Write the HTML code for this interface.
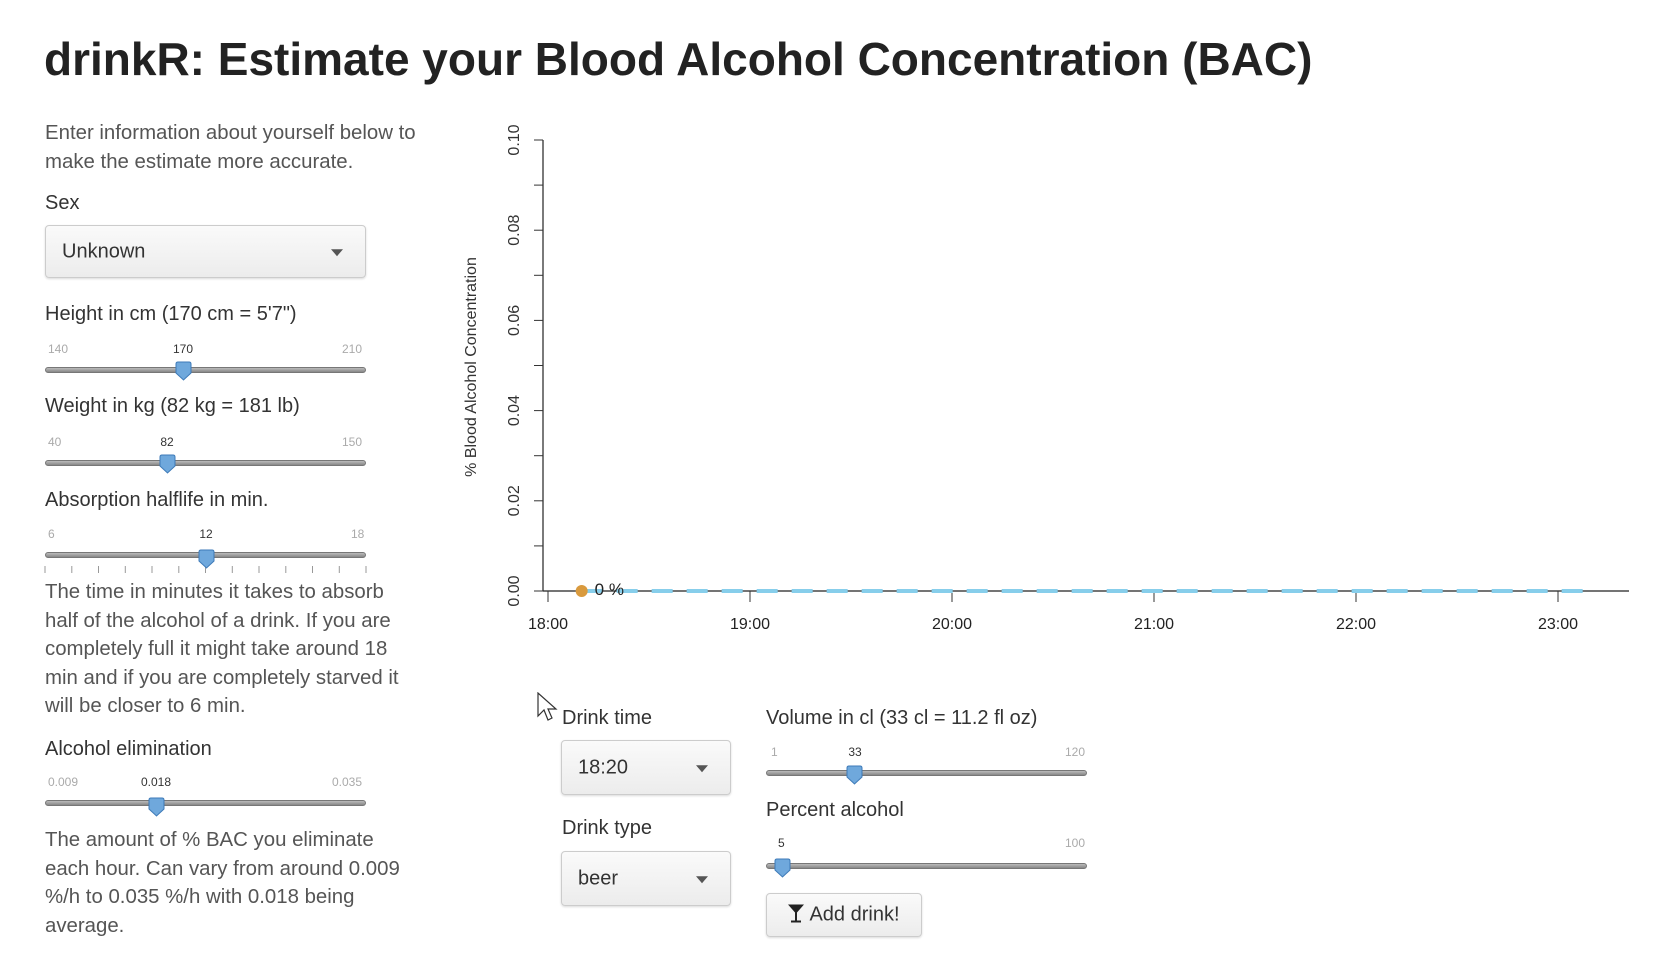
<!DOCTYPE html>
<html><head><meta charset="utf-8">
<style>
body{margin:0;width:1676px;height:954px;background:#fff;position:relative;overflow:hidden;font-family:"Liberation Sans",sans-serif;color:#333;}
.a{position:absolute;white-space:nowrap;}
.lbl{font-size:20px;line-height:24px;}
.p{font-size:20.4px;line-height:28.6px;color:#555;white-space:nowrap;}
.sel{position:absolute;border:1px solid #ccc;border-radius:4px;background:linear-gradient(#fafafa,#ececec);box-shadow:0 1px 2px rgba(0,0,0,.15);font-size:20px;box-sizing:border-box;}
.sel span{position:absolute;left:16px;top:50%;transform:translateY(-50%);}
.sel i{position:absolute;right:22px;top:50%;width:0;height:0;border-left:6px solid transparent;border-right:6px solid transparent;border-top:7px solid #555;transform:translateY(-40%);}
.trk{position:absolute;height:6px;border-radius:3px;background:linear-gradient(#bbb,#888);border:1px solid #777;box-sizing:border-box;}
.mm{position:absolute;font-size:12px;color:#aaa;}
.cv{position:absolute;font-size:12px;color:#333;transform:translateX(-50%);}
.h{position:absolute;width:17px;height:20px;}
</style></head><body>
<div class="a" style="left:44px;top:32px;font-size:46px;font-weight:bold;color:#222;">drinkR: Estimate your Blood Alcohol Concentration (BAC)</div>

<div class="a p" style="left:45px;top:119px;">Enter information about yourself below to<br>make the estimate more accurate.</div>

<div class="a lbl" style="left:45px;top:191px;">Sex</div>
<div class="sel" style="left:45px;top:225px;width:321px;height:53px;"><span>Unknown</span><i></i></div>

<div class="a lbl" style="left:45px;top:302px;">Height in cm (170 cm = 5'7")</div>
<div class="mm" style="left:48px;top:342px;">140</div>
<div class="cv" style="left:183px;top:342px;">170</div>
<div class="mm" style="left:342px;top:342px;">210</div>
<div class="trk" style="left:45px;top:367px;width:321px;"></div>
<svg class="h" style="left:175px;top:361px;" viewBox="0 0 17 20"><path d="M1 3Q1 1 3 1H14Q16 1 16 3V12L8.5 19L1 12Z" fill="#6fa8dc" stroke="#3d7ab8"/></svg>

<div class="a lbl" style="left:45px;top:394px;">Weight in kg (82 kg = 181 lb)</div>
<div class="mm" style="left:48px;top:435px;">40</div>
<div class="cv" style="left:167px;top:435px;">82</div>
<div class="mm" style="left:342px;top:435px;">150</div>
<div class="trk" style="left:45px;top:460px;width:321px;"></div>
<svg class="h" style="left:159px;top:454px;" viewBox="0 0 17 20"><path d="M1 3Q1 1 3 1H14Q16 1 16 3V12L8.5 19L1 12Z" fill="#6fa8dc" stroke="#3d7ab8"/></svg>

<div class="a lbl" style="left:45px;top:488px;">Absorption halflife in min.</div>
<div class="mm" style="left:48px;top:527px;">6</div>
<div class="cv" style="left:206px;top:527px;">12</div>
<div class="mm" style="left:351px;top:527px;">18</div>
<div class="trk" style="left:45px;top:552px;width:321px;"></div>
<svg class="a" style="left:44px;top:566px;" width="324" height="8"><g stroke="#999" stroke-width="1"><line x1="1" y1="0" x2="1" y2="7"/><line x1="27.8" y1="0" x2="27.8" y2="7"/><line x1="54.5" y1="0" x2="54.5" y2="7"/><line x1="81.3" y1="0" x2="81.3" y2="7"/><line x1="108" y1="0" x2="108" y2="7"/><line x1="134.8" y1="0" x2="134.8" y2="7"/><line x1="161.5" y1="0" x2="161.5" y2="7"/><line x1="188.3" y1="0" x2="188.3" y2="7"/><line x1="215" y1="0" x2="215" y2="7"/><line x1="241.8" y1="0" x2="241.8" y2="7"/><line x1="268.5" y1="0" x2="268.5" y2="7"/><line x1="295.3" y1="0" x2="295.3" y2="7"/><line x1="322" y1="0" x2="322" y2="7"/></g></svg>
<svg class="h" style="left:198px;top:549px;" viewBox="0 0 17 20"><path d="M1 3Q1 1 3 1H14Q16 1 16 3V12L8.5 19L1 12Z" fill="#6fa8dc" stroke="#3d7ab8"/></svg>
<div class="a p" style="left:45px;top:578px;">The time in minutes it takes to absorb<br>half of the alcohol of a drink. If you are<br>completely full it might take around 18<br>min and if you are completely starved it<br>will be closer to 6 min.</div>

<div class="a lbl" style="left:45px;top:737px;">Alcohol elimination</div>
<div class="mm" style="left:48px;top:775px;">0.009</div>
<div class="cv" style="left:156px;top:775px;">0.018</div>
<div class="mm" style="left:332px;top:775px;">0.035</div>
<div class="trk" style="left:45px;top:800px;width:321px;"></div>
<svg class="h" style="left:148px;top:797px;" viewBox="0 0 17 20"><path d="M1 3Q1 1 3 1H14Q16 1 16 3V12L8.5 19L1 12Z" fill="#6fa8dc" stroke="#3d7ab8"/></svg>
<div class="a p" style="left:45px;top:826px;">The amount of % BAC you eliminate<br>each hour. Can vary from around 0.009<br>%/h to 0.035 %/h with 0.018 being<br>average.</div>

<svg id="chart" class="a" style="left:0;top:0;" width="1676" height="680"></svg>

<svg class="a" style="left:537px;top:692px;" width="22" height="32" viewBox="0 0 22 32"><path d="M1 1V24L7 18L11 28L15 26L11 17H19Z" fill="#fff" stroke="#333" stroke-width="1.2"/></svg>

<div class="a lbl" style="left:562px;top:706px;">Drink time</div>
<div class="sel" style="left:561px;top:740px;width:170px;height:55px;"><span>18:20</span><i></i></div>
<div class="a lbl" style="left:562px;top:816px;">Drink type</div>
<div class="sel" style="left:561px;top:851px;width:170px;height:55px;"><span>beer</span><i></i></div>

<div class="a lbl" style="left:766px;top:706px;">Volume in cl (33 cl = 11.2 fl oz)</div>
<div class="mm" style="left:771px;top:745px;">1</div>
<div class="cv" style="left:855px;top:745px;">33</div>
<div class="mm" style="left:1065px;top:745px;">120</div>
<div class="trk" style="left:766px;top:770px;width:321px;"></div>
<svg class="h" style="left:846px;top:765px;" viewBox="0 0 17 20"><path d="M1 3Q1 1 3 1H14Q16 1 16 3V12L8.5 19L1 12Z" fill="#6fa8dc" stroke="#3d7ab8"/></svg>

<div class="a lbl" style="left:766px;top:798px;">Percent alcohol</div>
<div class="mm" style="left:778px;top:836px;color:#333;">5</div>
<div class="mm" style="left:1065px;top:836px;">100</div>
<div class="trk" style="left:766px;top:863px;width:321px;"></div>
<svg class="h" style="left:774px;top:858px;" viewBox="0 0 17 20"><path d="M1 3Q1 1 3 1H14Q16 1 16 3V12L8.5 19L1 12Z" fill="#6fa8dc" stroke="#3d7ab8"/></svg>

<div class="sel" style="left:766px;top:893px;width:156px;height:44px;"><span style="left:20px;"><svg width="18" height="20" viewBox="0 0 18 20" style="vertical-align:-3px"><path d="M1 1H17L10 9V17H14V19H4V17H8V9Z" fill="#222"/></svg> Add drink!</span></div>

<script>
const yTicks=[0,0.01,0.02,0.03,0.04,0.05,0.06,0.07,0.08,0.09,0.10];
const yLabels=["0.00","0.02","0.04","0.06","0.08","0.10"];
const xTicks=[0,60,120,180,240,300];
const xLabels=["18:00","19:00","20:00","21:00","22:00","23:00"];
const drinkTimes=[10];
const drinkBac=[0];
const bacLineStart=10;
const bacLineEnd=310;
const bacLineValue=0;

const X=m=>548+m*202/60;
const Y=v=>591-v*4510;
const svg=document.getElementById('chart');
const NS='http://www.w3.org/2000/svg';
function mk(t,a){const e=document.createElementNS(NS,t);for(const k in a)e.setAttribute(k,a[k]);svg.appendChild(e);return e;}
let e;
e=mk('line',{x1:543,y1:Y(0.10),x2:543,y2:Y(0),stroke:'#333','stroke-width':1.3});


yTicks.forEach(v=>{const t=mk('line',{x1:534,y1:Y(v),x2:543,y2:Y(v),stroke:'#333','stroke-width':1});

});
yLabels.forEach(s=>{const v=parseFloat(s);const t=mk('text',{x:0,y:0,transform:`translate(519,${Y(v)}) rotate(-90)`,'text-anchor':'middle','font-size':16,fill:'#333','font-family':'Liberation Sans, sans-serif'});t.textContent=s;

});
e=mk('text',{x:0,y:0,transform:'translate(476,367) rotate(-90)','text-anchor':'middle','font-size':16,fill:'#333','font-family':'Liberation Sans, sans-serif'});e.textContent='% Blood Alcohol Concentration';


e=mk('line',{x1:543,y1:Y(0),x2:1629,y2:Y(0),stroke:'#222','stroke-width':1.3});


xTicks.forEach((m,i)=>{const t=mk('line',{x1:X(m),y1:Y(0),x2:X(m),y2:Y(0)+11,stroke:'#333','stroke-width':1});


const l=mk('text',{x:X(m),y:629,'text-anchor':'middle','font-size':16,fill:'#222','font-family':'Liberation Sans, sans-serif'});l.textContent=xLabels[i];

});
e=mk('line',{x1:X(bacLineStart),y1:Y(bacLineValue),x2:X(bacLineEnd),y2:Y(bacLineValue),stroke:'#87ceeb','stroke-width':4,'stroke-dasharray':'21 14'});


drinkTimes.forEach((m,i)=>{const c=mk('circle',{cx:X(m),cy:Y(drinkBac[i]),r:6,fill:'#d99a3e'});


const l=mk('text',{x:X(m)+13,y:Y(drinkBac[i])+4,'font-size':17,fill:'#222','font-family':'Liberation Sans, sans-serif'});l.textContent=(drinkBac[i]*100)+' %';

});
</script>
</body></html>
